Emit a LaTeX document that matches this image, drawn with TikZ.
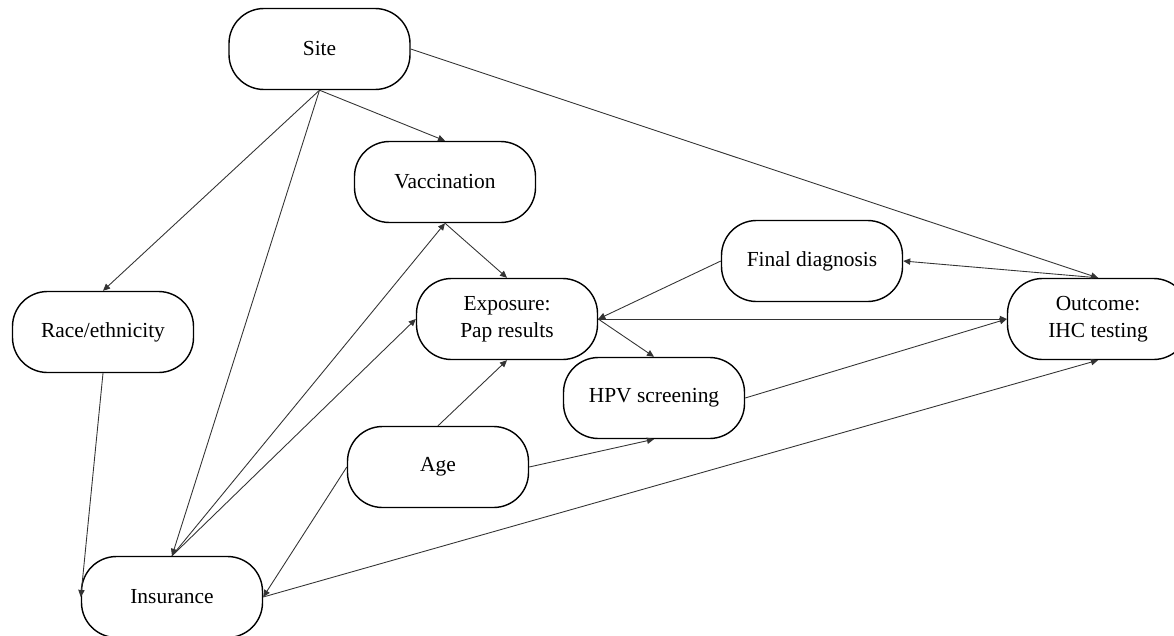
\documentclass[tikz,border=0pt]{standalone}
\usepackage{fontspec}
\setmainfont{Liberation Serif}
\usetikzlibrary{arrows.meta}
\tikzset{
  var/.style={draw=black, line width=0.8pt, rounded corners=0.7cm, minimum width=3.62cm, minimum height=1.62cm, align=center, font=\fontsize{12.2}{15.4}\selectfont},
  sig/.style={-{Triangle[length=4pt,width=3.6pt]}, line width=0.5pt, draw=black!80}
}

\begin{document}
\begin{tikzpicture}
  \useasboundingbox (0,0) rectangle (23.48,-12.7);

  \node[var] (site) at (6.39,-0.98) {Site};
  \node[var] (vacc) at (8.90,-3.64) {Vaccination};
  \node[var] (race) at (2.06,-6.64) {Race/ethnicity};
  \node[var] (expo) at (10.14,-6.38) {Exposure:\\Pap results};
  \node[var] (diag) at (16.24,-5.22) {Final diagnosis};
  \node[var] (outc) at (21.96,-6.38) {Outcome:\\IHC testing};
  \node[var] (hpv) at (13.08,-7.96) {HPV screening};
  \node[var] (age) at (8.76,-9.34) {Age};
  \node[var] (ins) at (3.44,-11.94) {Insurance};

  \draw[sig] (site.south) -- (race.north);
  \draw[sig] (site.south) -- (ins.north);
  \draw[sig] (site.south) -- (vacc.north);
  \draw[sig] (site.east) -- (outc.north);
  \draw[sig] (vacc.south) -- (expo.north);
  \draw[sig] (ins.north) -- (vacc.south);
  \draw[sig] (ins.north) -- (expo.west);
  \draw[sig] (race.south) -- (ins.west);
  \draw[sig] (age.north) -- (expo.south);
  \draw[sig] (age.east) -- (hpv.south);
  \draw[sig] (age.west) -- (ins.east);
  \draw[sig] (ins.east) -- (outc.south);
  \draw[sig] (expo.east) -- (hpv.north);
  \draw[sig] (expo.east) -- (outc.west);
  \draw[sig] (diag.west) -- (expo.east);
  \draw[sig] (outc.north) -- (diag.east);
  \draw[sig] (hpv.east) -- (outc.west);
\end{tikzpicture}
\end{document}
